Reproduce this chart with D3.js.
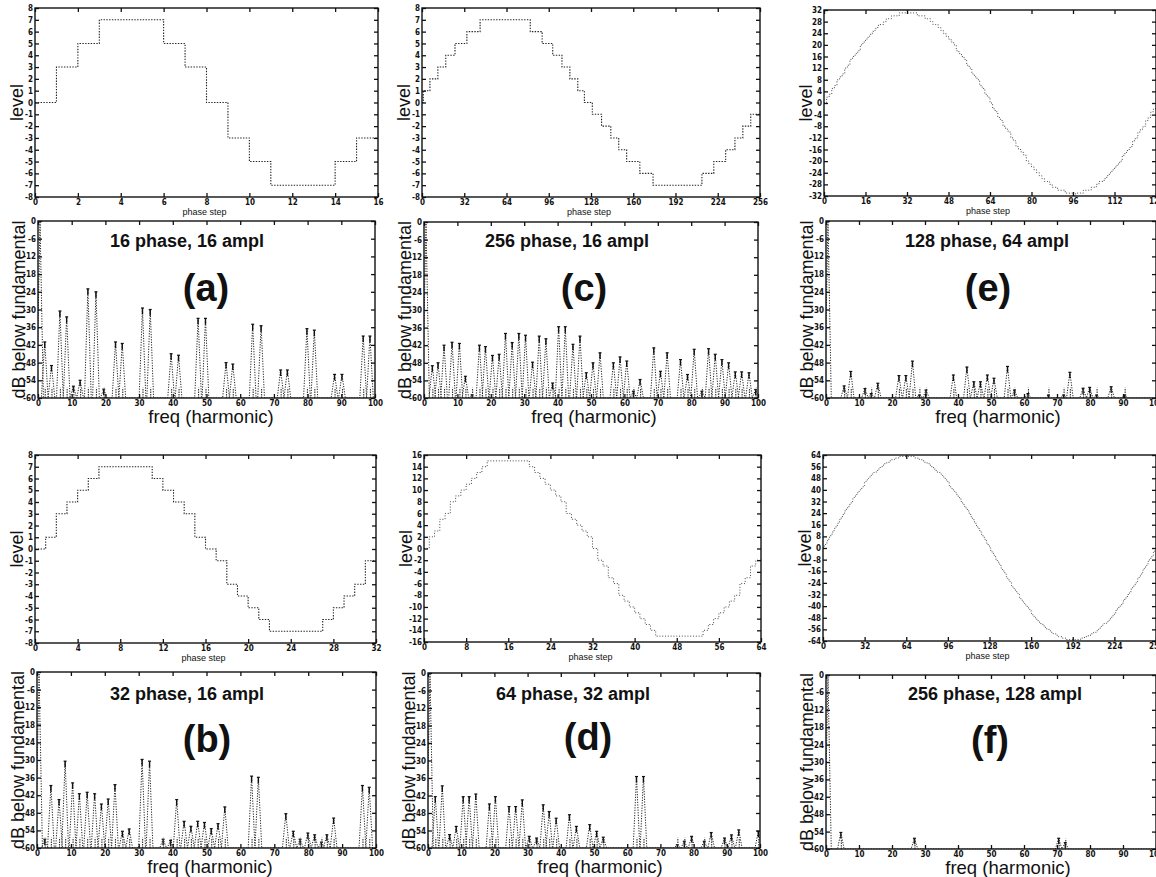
<!DOCTYPE html>
<html>
<head>
<meta charset="utf-8">
<script src="https://cdn.jsdelivr.net/npm/d3@7"></script>
<style>
body { margin: 0; background: #fff; }
svg { display: block; font-family: "Liberation Sans", Arial, Helvetica, sans-serif; }
</style>
</head>
<body>
<script>
// ---- waveforms: level held at each phase step ----
var levelA = [0,3,5,7,7,7,5,3,0,-3,-5,-7,-7,-7,-5,-3];
var levelB = [0,1,3,4,5,6,7,7,7,7,7,6,5,4,3,1,0,-1,-3,-4,-5,-6,-7,-7,-7,-7,-7,-6,-5,-4,-3,-1];
// 256 phase, 16 ampl: step where each level starts
var startC = [0,1,6,12,18,25,34,44,82,91,99,106,112,118,123,129,136,143,149,155,165,175,212,221,230,237,243,249];
var levelC = [0,1,2,3,4,5,6,7,6,5,4,3,2,1,0,-1,-2,-3,-4,-5,-6,-7,-6,-5,-4,-3,-2,-1];
var levelD = [0,2,3,5,6,8,9,10,11,12,13,14,15,15,15,15,15,15,15,15,14,13,12,11,10,9,8,6,5,4,3,2,
  0,-2,-3,-5,-6,-8,-9,-10,-11,-12,-13,-14,-15,-15,-15,-15,-15,-15,-15,-15,-15,-14,-13,-12,-11,-10,-9,-8,-6,-5,-3,-2];
var levelE = [0,2,3,5,6,8,9,10,12,13,15,16,17,18,20,21,22,23,24,25,26,27,27,28,29,29,30,30,30,31,31,31,31,
  31,31,31,30,30,30,29,29,28,27,27,26,25,24,23,22,21,20,18,17,16,15,13,12,10,9,8,6,5,3,2,
  0,-2,-3,-5,-6,-8,-9,-10,-12,-13,-15,-16,-17,-18,-20,-21,-22,-23,-24,-25,-26,-27,-27,-28,-29,-29,-30,-30,-30,-31,-31,-31,-32,
  -31,-31,-31,-30,-30,-30,-29,-29,-28,-27,-27,-26,-25,-24,-23,-22,-21,-20,-18,-17,-16,-15,-13,-12,-10,-9,-8,-6,-5,-3,-2];
var levelF = [0,2,3,5,6,8,9,11,12,14,15,17,18,20,21,23,24,26,27,28,30,31,32,34,35,36,38,39,40,41,42,43,45,46,47,48,49,50,51,52,52,53,54,55,56,56,57,58,58,59,59,60,60,61,61,61,62,62,62,63,63,63,63,63,63,
  63,63,63,63,63,62,62,62,61,61,61,60,60,59,59,58,58,57,56,56,55,54,53,52,52,51,50,49,48,47,46,45,43,42,41,40,39,38,36,35,34,32,31,30,28,27,26,24,23,21,20,18,17,15,14,12,11,9,8,6,5,3,2,
  0,-2,-3,-5,-6,-8,-9,-11,-12,-14,-15,-17,-18,-20,-21,-23,-24,-26,-27,-28,-30,-31,-32,-34,-35,-36,-38,-39,-40,-41,-42,-43,-45,-46,-47,-48,-49,-50,-51,-52,-52,-53,-54,-55,-56,-56,-57,-58,-58,-59,-59,-60,-60,-61,-61,-61,-62,-62,-62,-63,-63,-63,-63,-63,-63,
  -63,-63,-63,-63,-63,-62,-62,-62,-61,-61,-61,-60,-60,-59,-59,-58,-58,-57,-56,-56,-55,-54,-53,-52,-52,-51,-50,-49,-48,-47,-46,-45,-43,-42,-41,-40,-39,-38,-36,-35,-34,-32,-31,-30,-28,-27,-26,-24,-23,-21,-20,-18,-17,-15,-14,-12,-11,-9,-8,-6,-5,-3,-2];

// ---- spectra: harmonic position of each line and its level (dB below fundamental) ----
var harmA = [0.6,2,4,6.5,8.5,10.5,12.5,14.8,17.2,19.5,23,25,31,33.3,39.5,41.7,47.5,49.7,55.8,57.8,63.7,66.2,72,74,79.8,82,88,90.2,96.5,98.5];
var dbA   = [0,-41,-49,-30.5,-32.5,-56,-54,-23,-24,-57,-41,-41.5,-29.5,-30,-45,-45.5,-33,-33,-48,-48.5,-35,-35.5,-50.5,-50.5,-36.5,-37,-52,-52,-39,-39];
var harmB = [0.6,2.3,4.1,6.5,8.3,10.5,12.5,14.8,17,19,21,23,25.2,27.2,31,33.2,37.2,39.4,41.2,43.4,45.4,47.4,49.4,51.4,53.4,55.4,63.3,65.3,73.4,75.6,77.6,79.9,81.9,83.9,85.5,87.5,96,98];
var dbB   = [0,-57,-38.7,-43.5,-30.4,-37.8,-41.5,-41,-41.5,-45,-43.3,-38.4,-54.3,-53.5,-29.8,-30.4,-57,-57.4,-43.5,-50.9,-52.6,-50.9,-51.3,-53.4,-51.7,-46,-35.5,-35.9,-48.3,-54.3,-57,-54.9,-55.5,-58,-55.5,-49.8,-38.7,-39.3];
var harmC = [0.6,2.5,4.2,6,8.4,10.6,12.4,14.4,16.6,18.4,20.5,22.5,24.4,26.4,28.4,30.4,32.5,34.5,36.5,38.5,40.3,42.3,44.6,46.7,48.6,50.6,52.7,56.7,58.7,60.7,62.7,64.7,68.8,70.8,72.8,76.8,78.9,80.9,83.2,85.2,87.2,89.2,91.2,93.2,95.1,97.3,99.3];
var dbC   = [0,-49,-48,-42,-41,-41.4,-52.6,-58.9,-42,-42.5,-45.5,-45.1,-38,-41.1,-38,-38.6,-47.8,-38.9,-39.8,-54.9,-35.7,-35.7,-41.7,-38.9,-51.4,-48,-44.6,-48,-46,-47.4,-57.7,-53.7,-42.9,-50.9,-44.6,-46.9,-52,-43.4,-57.7,-43.2,-45.1,-46.9,-48,-51.1,-51.1,-51.4,-57.1];
var harmD = [0.6,2.2,4.3,6.5,8.5,10.6,12.4,14.4,18.5,20.3,24.4,26.4,28.4,30.5,32.7,34.7,36.5,38.6,42.6,44.7,48.7,50.8,52.8,62.8,64.9,75.1,77.2,79.4,83.2,85.3,89.3,91.4,93.6,99.5];
var dbD   = [0,-42.4,-38.7,-55.4,-52.6,-42.4,-42.4,-41.5,-44.9,-42.4,-45.8,-45.8,-43.5,-56,-56.6,-45.2,-47.5,-49.8,-48.6,-52.6,-52,-54.3,-56.3,-35.5,-35.5,-58.9,-57.7,-56,-57.7,-54.7,-56.6,-55.5,-53.8,-54.3];
var harmE = [0.6,5.5,7.5,11.8,13.7,15.7,22.1,24.2,26.2,28.3,30.3,38.6,42.7,44.8,46.8,48.9,50.9,55,57.1,61.2,67.4,72,73.9,77.9,79.9,82,86.4,90.5];
var dbE   = [0,-55.9,-51,-56.8,-58.5,-55,-52.4,-52.4,-47.5,-59,-57.3,-52.2,-49.5,-54.5,-54.5,-52.2,-53.3,-49.3,-57.3,-58.5,-59,-59,-51.3,-56.7,-56.4,-59,-56.2,-59];
var harmF = [0.6,4.5,26.8,70.5,72.5];
var dbF   = [0,-54.3,-56.3,-56.3,-57.8];

// ---- tick labels ----
var phaseTicksA = [0,2,4,6,8,10,12,14,16];
var phaseTicksB = [0,4,8,12,16,20,24,28,32];
var phaseTicksC = [0,32,64,96,128,160,192,224,256];
var phaseTicksD = [0,8,16,24,32,40,48,56,64];
var phaseTicksE = [0,16,32,48,64,80,96,112,128];
var phaseTicksF = [0,32,64,96,128,160,192,224,256];
var levelTicks8  = [-8,-7,-6,-5,-4,-3,-2,-1,0,1,2,3,4,5,6,7,8];
var levelTicks16 = [-16,-14,-12,-10,-8,-6,-4,-2,0,2,4,6,8,10,12,14,16];
var levelTicks32 = [-32,-28,-24,-20,-16,-12,-8,-4,0,4,8,12,16,20,24,28,32];
var levelTicks64 = [-64,-56,-48,-40,-32,-24,-16,-8,0,8,16,24,32,40,48,56,64];
var freqTicks = [0,10,20,30,40,50,60,70,80,90,100];
var dbTicks = [0,-6,-12,-18,-24,-30,-36,-42,-48,-54,-60];

var titles = ["16 phase, 16 ampl","32 phase, 16 ampl","256 phase, 16 ampl","64 phase, 32 ampl","128 phase, 64 ampl","256 phase, 128 ampl"];
var tags = ["(a)","(b)","(c)","(d)","(e)","(f)"];

// ---- layout (boxes are [left, top, right, bottom]) ----
var panels = [
  {start: null, level: levelA, n: 16, xt: phaseTicksA, ymax: 8, yt: levelTicks8, harm: harmA, db: dbA,
   top: [35, 8, 378, 197], bot: [38, 221, 375, 398], tx: 187, ty: 247, gx: 206, gy: 301, fx: 211},
  {start: null, level: levelB, n: 32, xt: phaseTicksB, ymax: 8, yt: levelTicks8, harm: harmB, db: dbB,
   top: [35, 455, 376, 643], bot: [37, 672, 376, 848], tx: 187, ty: 700, gx: 207, gy: 752, fx: 210},
  {start: startC, level: levelC, n: 256, xt: phaseTicksC, ymax: 8, yt: levelTicks8, harm: harmC, db: dbC,
   top: [422, 8, 760, 197], bot: [424, 222, 758, 398], tx: 567, ty: 247, gx: 584, gy: 301, fx: 594},
  {start: null, level: levelD, n: 64, xt: phaseTicksD, ymax: 16, yt: levelTicks16, harm: harmD, db: dbD,
   top: [424, 455, 761, 642], bot: [428, 673, 760, 848], tx: 573, ty: 700, gx: 588, gy: 750, fx: 600},
  {start: null, level: levelE, n: 128, xt: phaseTicksE, ymax: 32, yt: levelTicks32, harm: harmE, db: dbE,
   top: [824, 10, 1156, 196], bot: [826, 221, 1156, 398], tx: 987, ty: 247, gx: 988, gy: 301, fx: 998},
  {start: null, level: levelF, n: 256, xt: phaseTicksF, ymax: 64, yt: levelTicks64, harm: harmF, db: dbF,
   top: [823, 455, 1156, 641], bot: [826, 675, 1156, 849], tx: 995, ty: 700, gx: 990, gy: 753, fx: 1008}
];

var svg = d3.select("body").append("svg").attr("width", 1156).attr("height", 877);
var defs = svg.append("defs");

var fmt = function(d){ return String(d); };

// matlab-like box: ticks pointing in on all four sides
var add_frame = function(g, box, x, y, xticks, yticks){
  var ax = [
    [d3.axisBottom(x).tickValues(xticks).tickPadding(2).tickFormat(fmt), "translate(0," + box[3] + ")"],
    [d3.axisTop(x).tickValues(xticks).tickFormat(""), "translate(0," + box[1] + ")"],
    [d3.axisLeft(y).tickValues(yticks).tickPadding(2).tickFormat(fmt), "translate(" + box[0] + ",0)"],
    [d3.axisRight(y).tickValues(yticks).tickFormat(""), "translate(" + box[2] + ",0)"]
  ];
  ax.forEach(function(a){
    var ga = g.append("g").attr("transform", a[1])
      .call(a[0].tickSizeInner(-4).tickSizeOuter(0));
    ga.select(".domain").remove();
    ga.attr("font-size", 8).attr("font-weight", "bold")
      .attr("font-family", "'Liberation Sans Narrow', 'DejaVu Sans Condensed', Arial, sans-serif");
    ga.selectAll("line").attr("stroke", "#111").attr("stroke-width", 1.3);
    ga.selectAll("text").attr("fill", "#111");
  });
  g.append("rect").attr("x", box[0]).attr("y", box[1])
    .attr("width", box[2] - box[0]).attr("height", box[3] - box[1])
    .attr("fill", "none").attr("stroke", "#111").attr("stroke-width", 1.4);
};

var add_clip = function(id, box){
  defs.append("clipPath").attr("id", id).append("rect")
    .attr("x", box[0]).attr("y", box[1]).attr("width", box[2] - box[0]).attr("height", box[3] - box[1]);
};

var vlabel = function(txt, x, y){
  svg.append("text").attr("transform", "translate(" + x + "," + y + ") rotate(-90)")
    .attr("text-anchor", "middle").attr("font-size", 18).attr("fill", "#111").text(txt);
};

panels.forEach(function(p, k){
  // --- waveform ---
  var t = p.top;
  var x = d3.scaleLinear().domain([0, p.n]).range([t[0], t[2]]);
  var y = d3.scaleLinear().domain([-p.ymax, p.ymax]).range([t[3], t[1]]);
  var starts = p.start || p.level.map(function(v, i){ return i; });
  var pts = starts.map(function(s, i){ return [s, p.level[i]]; });
  pts.push([p.n, p.level[p.level.length - 1]]);
  add_clip("ct" + k, t);
  var line = d3.line().x(function(d){ return x(d[0]); }).y(function(d){ return y(d[1]); })
    .curve(d3.curveStepAfter);
  var fine = p.n >= 64 && !p.start;
  svg.append("path").attr("d", line(pts)).attr("clip-path", "url(#ct" + k + ")")
    .attr("fill", "none").attr("stroke", fine ? "#333" : "#222").attr("stroke-width", fine ? 0.9 : 1.1)
    .attr("stroke-dasharray", fine ? "1,1.8" : "1.4,1.4");
  add_frame(svg.append("g"), t, x, y, p.xt, p.yt);
  vlabel("level", t[0] - 12, (t[1] + t[3]) / 2);
  svg.append("text").attr("x", (t[0] + Math.min(t[2], 1156)) / 2 - 2).attr("y", t[3] + 18)
    .attr("text-anchor", "middle").attr("font-size", 9).attr("fill", "#111").text("phase step");

  // --- spectrum ---
  var b = p.bot;
  var fx = d3.scaleLinear().domain([0, 100]).range([b[0], b[2]]);
  var fy = d3.scaleLinear().domain([-60, 0]).range([b[3], b[1]]);
  var sp = [[0, -60]];
  p.harm.forEach(function(h, i){
    sp.push([h - 1, -60]); sp.push([h, p.db[i]]); sp.push([h + 1, -60]);
  });
  sp.push([100, -60]);
  add_clip("cb" + k, b);
  var sline = d3.line().x(function(d){ return fx(d[0]); }).y(function(d){ return fy(d[1]); });
  var gs = svg.append("g").attr("clip-path", "url(#cb" + k + ")");
  gs.append("path").attr("d", sline(sp))
    .attr("fill", "none").attr("stroke", "#222").attr("stroke-width", 1)
    .attr("stroke-dasharray", "1.2,1.4");
  // little caps on the peaks and the denser dots at their feet
  p.harm.forEach(function(h, i){
    if (i === 0) return;
    var px = fx(h), py = fy(p.db[i]);
    gs.append("line").attr("x1", px - 1.5).attr("x2", px + 1.5).attr("y1", py).attr("y2", py)
      .attr("stroke", "#111").attr("stroke-width", 1.2);
    gs.append("line").attr("x1", px).attr("x2", px).attr("y1", py).attr("y2", py + 6)
      .attr("stroke", "#111").attr("stroke-width", 1.4);
    gs.append("line").attr("x1", px + 0.5).attr("x2", px + 0.5).attr("y1", fy(-60)).attr("y2", fy(-56.5))
      .attr("stroke", "#333").attr("stroke-width", 1.1).attr("stroke-dasharray", "1.5,1");
  });
  add_frame(svg.append("g"), b, fx, fy, freqTicks, dbTicks);
  vlabel("dB below fundamental", b[0] - 13, (b[1] + b[3]) / 2);
  svg.append("text").attr("x", p.fx).attr("y", b[3] + 25)
    .attr("text-anchor", "middle").attr("font-size", 18.5).attr("fill", "#111").text("freq (harmonic)");

  svg.append("text").attr("x", p.tx).attr("y", p.ty).attr("text-anchor", "middle")
    .attr("font-size", 18).attr("font-weight", "bold").attr("fill", "#111").text(titles[k]);
  svg.append("text").attr("x", p.gx).attr("y", p.gy).attr("text-anchor", "middle")
    .attr("font-size", 38).attr("font-weight", "bold").attr("fill", "#111").text(tags[k]);
});
</script>
</body>
</html>
